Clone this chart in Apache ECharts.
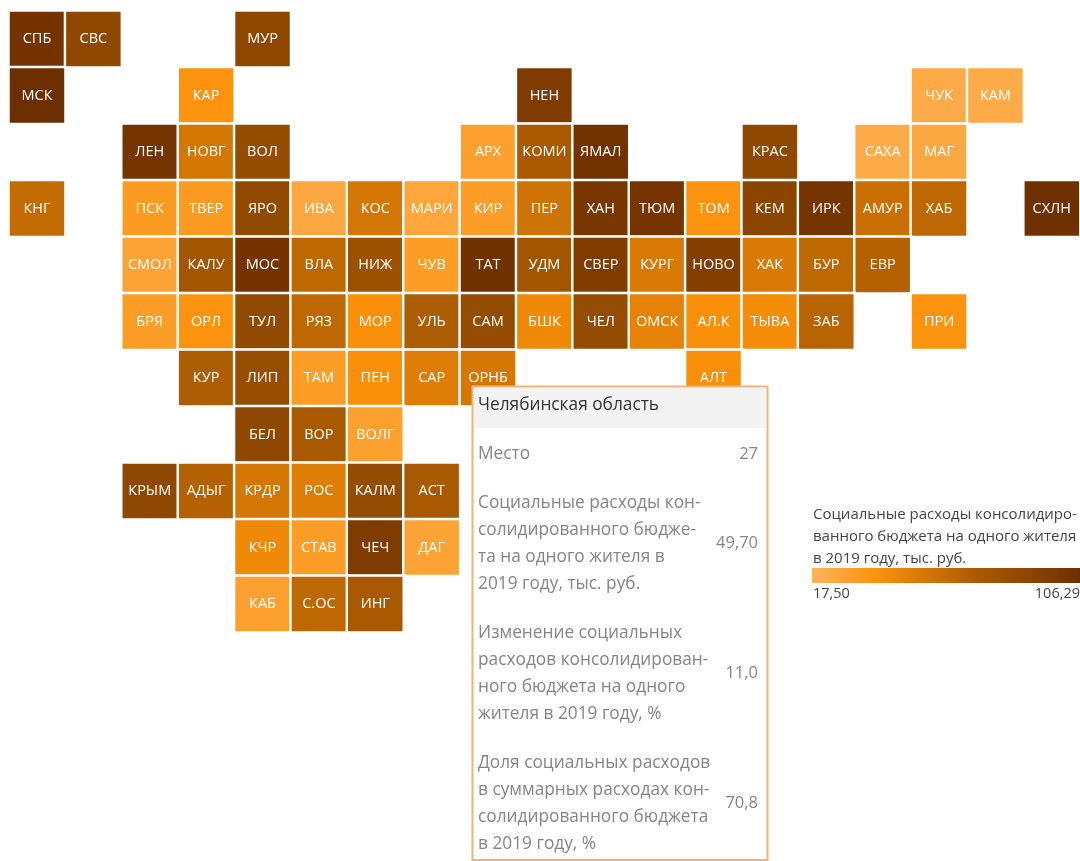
<!DOCTYPE html>
<html>
<head>
<meta charset="utf-8">
<title>Социальные расходы</title>
<style>
  html, body { margin: 0; padding: 0; background: #fff; }
  #chart { width: 1080px; height: 861px; }
</style>
<script src="https://cdn.jsdelivr.net/npm/echarts@6/dist/echarts.min.js"></script>
</head>
<body>
<div id="chart"></div>
<script>
// Tile map: one row of names and one row of values per map row, '' = no region
const tileNames = [
  ['СПБ', 'СВС', '', '', 'МУР', '', '', '', '', '', '', '', '', '', '', '', '', '', ''],
  ['МСК', '', '', 'КАР', '', '', '', '', '', 'НЕН', '', '', '', '', '', '', 'ЧУК', 'КАМ', ''],
  ['', '', 'ЛЕН', 'НОВГ', 'ВОЛ', '', '', '', 'АРХ', 'КОМИ', 'ЯМАЛ', '', '', 'КРАС', '', 'САХА', 'МАГ', '', ''],
  ['КНГ', '', 'ПСК', 'ТВЕР', 'ЯРО', 'ИВА', 'КОС', 'МАРИ', 'КИР', 'ПЕР', 'ХАН', 'ТЮМ', 'ТОМ', 'КЕМ', 'ИРК', 'АМУР', 'ХАБ', '', 'СХЛН'],
  ['', '', 'СМОЛ', 'КАЛУ', 'МОС', 'ВЛА', 'НИЖ', 'ЧУВ', 'ТАТ', 'УДМ', 'СВЕР', 'КУРГ', 'НОВО', 'ХАК', 'БУР', 'ЕВР', '', '', ''],
  ['', '', 'БРЯ', 'ОРЛ', 'ТУЛ', 'РЯЗ', 'МОР', 'УЛЬ', 'САМ', 'БШК', 'ЧЕЛ', 'ОМСК', 'АЛ.К', 'ТЫВА', 'ЗАБ', '', 'ПРИ', '', ''],
  ['', '', '', 'КУР', 'ЛИП', 'ТАМ', 'ПЕН', 'САР', 'ОРНБ', '', '', '', 'АЛТ', '', '', '', '', '', ''],
  ['', '', '', '', 'БЕЛ', 'ВОР', 'ВОЛГ', '', '', '', '', '', '', '', '', '', '', '', ''],
  ['', '', 'КРЫМ', 'АДЫГ', 'КРДР', 'РОС', 'КАЛМ', 'АСТ', '', '', '', '', '', '', '', '', '', '', ''],
  ['', '', '', '', 'КЧР', 'СТАВ', 'ЧЕЧ', 'ДАГ', '', '', '', '', '', '', '', '', '', '', ''],
  ['', '', '', '', 'КАБ', 'С.ОС', 'ИНГ', '', '', '', '', '', '', '', '', '', '', '', '']
]
// тыс. руб. (ЧЕЛ and the two extremes are printed in the picture)
const tileValues = [
  [90, 55, 0, 0, 56, 0, 0, 0, 0, 0, 0, 0, 0, 0, 0, 0, 0, 0, 0],
  [106.29, 0, 0, 30, 0, 0, 0, 0, 0, 70, 0, 0, 0, 0, 0, 0, 21, 21, 0],
  [0, 0, 85, 38, 50, 0, 0, 0, 25, 46, 92, 0, 0, 55, 0, 21, 22, 0, 0],
  [41, 0, 27, 27, 52, 22, 38, 23, 26, 39, 80, 88, 30, 58, 85, 40, 42, 0, 100],
  [0, 0, 24, 47, 90, 42, 48, 26, 95, 47, 70, 37, 65, 37, 42, 44, 0, 0, 0],
  [0, 0, 26, 30, 52, 42, 31, 45, 50, 33, 49.7, 35, 31, 32, 43, 0, 30, 0, 0],
  [0, 0, 0, 45, 49, 26, 31, 36, 38, 0, 0, 0, 31, 0, 0, 0, 0, 0, 0],
  [0, 0, 0, 0, 55, 46, 25, 0, 0, 0, 0, 0, 0, 0, 0, 0, 0, 0, 0],
  [0, 0, 55, 44, 38, 36, 50, 46, 0, 0, 0, 0, 0, 0, 0, 0, 0, 0, 0],
  [0, 0, 0, 0, 33, 26, 70, 24, 0, 0, 0, 0, 0, 0, 0, 0, 0, 0, 0],
  [0, 0, 0, 0, 25, 42, 46, 0, 0, 0, 0, 0, 0, 0, 0, 0, 0, 0, 0]
]
const columns = tileNames[0].map((_, i) => String(i))
const rows = tileNames.map((_, i) => String(i))

// Colour scale is not linear in value: ЧЕЛ at 49,70 is already dark brown
const minValue = 17.5
const maxValue = 106.29
const scaleValues = [17.5, 31, 40, 49.7, 75, 106.29]
const scaleColors = ['#FDB45E', '#FB9009', '#C96F04', '#934C01', '#7A3700', '#6E2F00']

const legendTitle = ['Социальные расходы консолидиро-', 'ванного бюджета на одного жителя', 'в 2019 году, тыс. руб.']
const legendMin = '17,50'
const legendMax = '106,29'

const panelTitle = 'Челябинская область'
const panelLabels = [
  ['Место'],
  ['Социальные расходы кон-', 'солидированного бюдже-', 'та на одного жителя в', '2019 году, тыс. руб.'],
  ['Изменение социальных', 'расходов консолидирован-', 'ного бюджета на одного', 'жителя в 2019 году, %'],
  ['Доля социальных расходов', 'в суммарных расходах кон-', 'солидированного бюджета', 'в 2019 году, %']
]
const panelValues = ['27', '49,70', '11,0', '70,8']

// Resample the uneven scale into even stops for visualMap
function buildRamp(steps) {
  const ramp = []
  for (let i = 0; i <= steps; i++) {
    const v = minValue + (maxValue - minValue) * i / steps
    let k = 0
    while (k < scaleValues.length - 2 && v > scaleValues[k + 1]) k++
    const t = (v - scaleValues[k]) / (scaleValues[k + 1] - scaleValues[k])
    ramp.push(echarts.color.lerp(t, [scaleColors[k], scaleColors[k + 1]]))
  }
  return ramp
}

const cells = []
tileNames.forEach((row, r) => {
  row.forEach((name, c) => {
    if (name) cells.push({ name, value: [c, r, tileValues[r][c]] })
  })
})

const FONT = '"Open Sans", sans-serif'

function textEl(x, y, text, size, fill, align) {
  return {
    type: 'text', x, y, z: 110,
    style: { text, font: size + 'px ' + FONT, fill, align: align || 'left', verticalAlign: 'middle' }
  }
}

// Fixed info panel as in the picture, its last line sits right above the page edge
function panelElements() {
  const els = [
    { type: 'rect', z: 100, shape: { x: 472.5, y: 386.5, width: 295, height: 473.5 },
      style: { fill: '#fff', stroke: '#EDB47C', lineWidth: 2 } },
    { type: 'rect', z: 101, shape: { x: 474, y: 388, width: 292, height: 40 }, style: { fill: '#F3F3F3' } },
    textEl(478, 405.5, panelTitle, 17.3, '#333')
  ]
  let y = 454
  panelLabels.forEach((lines, i) => {
    lines.forEach((line, k) => els.push(textEl(478, y + k * 27, line, 17.3, '#858585')))
    els.push(textEl(758, y + (lines.length - 1) * 13.5, panelValues[i], 16.5, '#858585', 'right'))
    y += lines.length * 27 + 22
  })
  return els
}

function legendElements() {
  const els = legendTitle.map((line, i) => textEl(813, 515 + i * 22, line, 15, '#444'))
  els.push({
    type: 'rect', z: 100, shape: { x: 812, y: 568, width: 268, height: 15 },
    style: {
      fill: new echarts.graphic.LinearGradient(0, 0, 1, 0, [
        { offset: 0, color: '#FDB45E' },
        { offset: 0.25, color: '#FB9009' },
        { offset: 0.6, color: '#AE5C02' },
        { offset: 1, color: '#6E2F00' }
      ])
    }
  })
  els.push(textEl(813, 594, legendMin, 14.5, '#444'))
  els.push(textEl(1080, 594, legendMax, 14.5, '#444', 'right'))
  return els
}

const chart = echarts.init(document.getElementById('chart'))
chart.setOption({
  animation: false,
  backgroundColor: '#fff',
  tooltip: { show: false },
  grid: { left: 8.8, top: 10.8, width: 1071.6, height: 621.5 },
  xAxis: { type: 'category', data: columns, show: false },
  yAxis: { type: 'category', data: rows, inverse: true, show: false },
  visualMap: {
    show: false, dimension: 2, seriesIndex: 0,
    min: minValue, max: maxValue,
    inRange: { color: buildRamp(88) }
  },
  series: [{
    type: 'heatmap',
    data: cells,
    itemStyle: { borderColor: '#fff', borderWidth: 2.4 },
    label: {
      show: true,
      formatter: p => p.name,
      color: '#fff',
      fontFamily: FONT,
      fontSize: 14.5,
      fontWeight: 500
    },
    emphasis: { disabled: true }
  }],
  graphic: panelElements().concat(legendElements())
})
</script>
</body>
</html>
